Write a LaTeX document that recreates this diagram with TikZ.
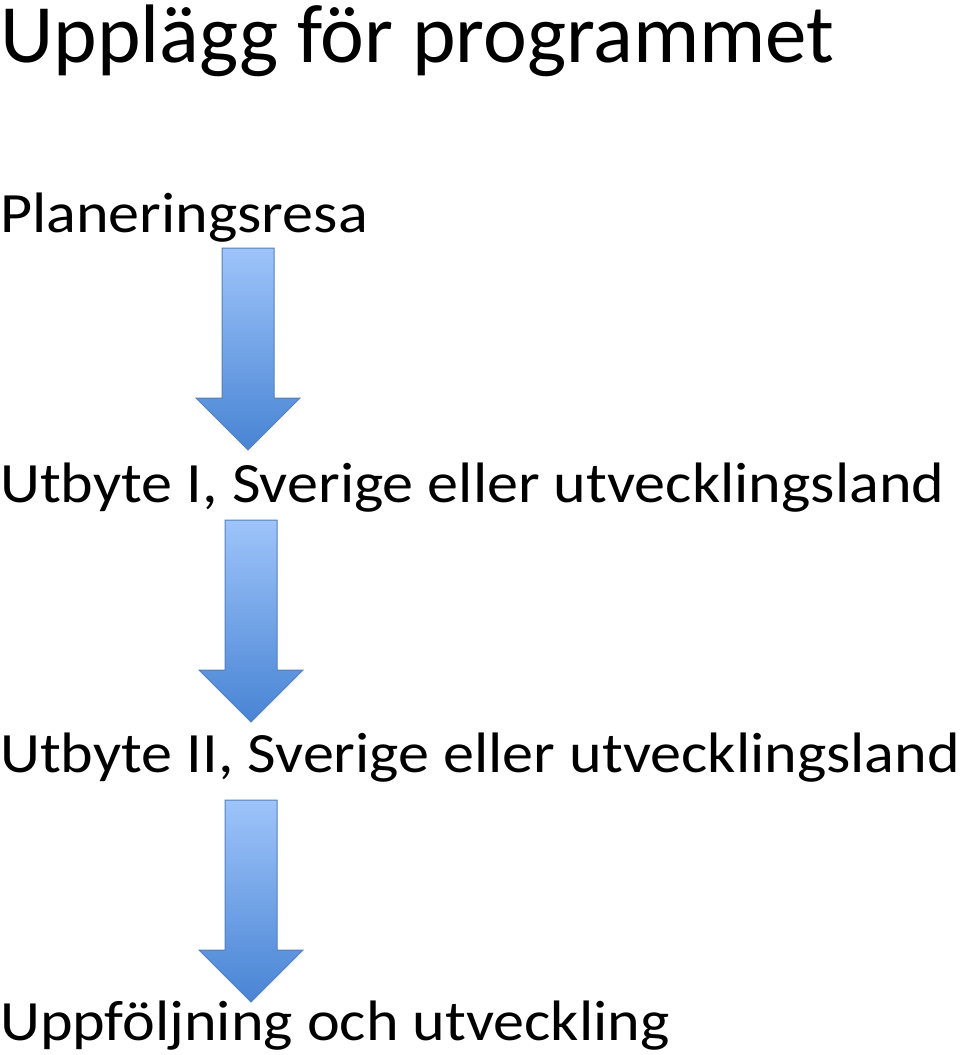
\documentclass[tikz,border=0pt]{standalone}
\usepackage{fontspec}
\setmainfont{Carlito}
\usetikzlibrary{shapes.arrows, positioning}

\definecolor{arrowtop}{RGB}{158,196,250}
\definecolor{arrowbot}{RGB}{72,132,212}
\definecolor{arrowline}{RGB}{84,128,188}

\begin{document}
\begin{tikzpicture}[
  x=1pt, y=1pt,
  title/.style={font=\fontsize{83}{90}\selectfont, inner sep=0pt, anchor=base west},
  level/.style={font=\fontsize{57}{64}\selectfont, inner sep=0pt, anchor=base west, xscale=1.09},
  flowarrow/.style={single arrow, shape border rotate=270, draw=arrowline, line width=1pt,
    top color=arrowtop, bottom color=arrowbot, minimum height=202pt, minimum width=103pt,
    single arrow head extend=26pt, single arrow head indent=0pt,
    inner xsep=25.5pt, inner ysep=25.5pt}
]
\useasboundingbox (0,0) rectangle (960,-1055);

% ===== Titel =====
\node[title] (rubrik) at (0,-62) {Upplägg för programmet};

% ===== Steg =====
\node[level] (plan) at (0,-232) {Planeringsresa};
\node[level] (utbyte1) at (0,-502) {Utbyte I, Sverige eller utvecklingsland};
\node[level] (utbyte2) at (0,-772) {Utbyte II, Sverige eller utvecklingsland};
\node[level] (uppf) at (0,-1040) {Uppföljning och utveckling};

% ===== Pilar =====
\node[flowarrow] (pil1) at (248,-336) {};
\node[flowarrow] (pil2) at (251,-608) {};
\node[flowarrow] (pil3) at (251,-888) {};

\end{tikzpicture}
\end{document}
